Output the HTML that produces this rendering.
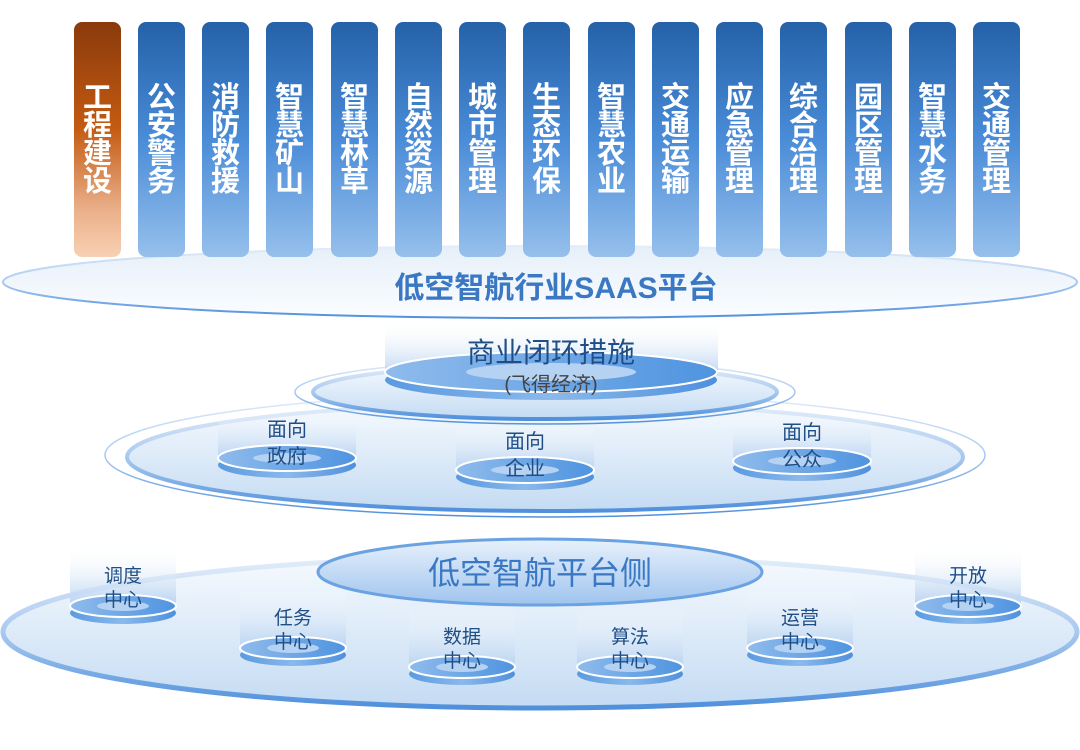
<!DOCTYPE html>
<html><head><meta charset="utf-8"><style>
html,body{margin:0;padding:0;background:#fff;}
svg{display:block;}
text{font-family:"Liberation Sans","Noto Sans CJK SC",sans-serif;}
</style></head><body>
<svg width="1080" height="750" viewBox="0 0 1080 750" xmlns="http://www.w3.org/2000/svg">
<defs>
<linearGradient id="col" x1="0" y1="0" x2="0" y2="1">
<stop offset="0" stop-color="#2461a8"/><stop offset="0.5" stop-color="#4a8cd8"/><stop offset="1" stop-color="#96c0ec"/></linearGradient>
<linearGradient id="colO" x1="0" y1="0" x2="0" y2="1">
<stop offset="0" stop-color="#8a3a0c"/><stop offset="0.45" stop-color="#c45a12"/><stop offset="0.8" stop-color="#eab08a"/><stop offset="1" stop-color="#f8d0b4"/></linearGradient>
<linearGradient id="plat" x1="0" y1="0" x2="0" y2="1">
<stop offset="0" stop-color="#e6eff9"/><stop offset="1" stop-color="#fbfdff"/></linearGradient>
<linearGradient id="big" x1="0" y1="0" x2="0" y2="1">
<stop offset="0" stop-color="#f6fafe"/><stop offset="1" stop-color="#c4dbf3"/></linearGradient>
<linearGradient id="stk" x1="0" y1="0" x2="0" y2="1">
<stop offset="0" stop-color="#e4eefa"/><stop offset="0.5" stop-color="#a9c9ef"/><stop offset="1" stop-color="#4f90dc"/></linearGradient>
<linearGradient id="glow" x1="0" y1="0" x2="0" y2="1">
<stop offset="0" stop-color="#ffffff" stop-opacity="0"/><stop offset="1" stop-color="#b9d3f1"/></linearGradient>
<linearGradient id="disk" x1="0" y1="0" x2="1" y2="0">
<stop offset="0" stop-color="#8fbbec"/><stop offset="1" stop-color="#4f94e0"/></linearGradient>
<linearGradient id="side" x1="0" y1="0" x2="1" y2="0">
<stop offset="0" stop-color="#5a9ae0"/><stop offset="0.5" stop-color="#8ab9ec"/><stop offset="1" stop-color="#4f90dc"/></linearGradient>
<linearGradient id="pt" x1="0" y1="0" x2="0" y2="1">
<stop offset="0" stop-color="#e8f1fb"/><stop offset="1" stop-color="#9fc4ee"/></linearGradient>
</defs>

<!-- top platform -->
<ellipse cx="540" cy="282" rx="537" ry="36" fill="url(#plat)" stroke="url(#stk)" stroke-width="2"/>
<!-- columns -->
<g fill="#fff" font-weight="bold" font-size="29" text-anchor="middle">
<rect x="74" y="22" width="47" height="235" rx="8" fill="url(#colO)"/>
<text x="97.5" y="107">工</text><text x="97.5" y="135">程</text><text x="97.5" y="163">建</text><text x="97.5" y="191">设</text>
</g>
<g fill="#fff" font-weight="bold" font-size="29" text-anchor="middle">
<rect x="138" y="22" width="47" height="235" rx="8" fill="url(#col)"/>
<rect x="202" y="22" width="47" height="235" rx="8" fill="url(#col)"/>
<rect x="266" y="22" width="47" height="235" rx="8" fill="url(#col)"/>
<rect x="331" y="22" width="47" height="235" rx="8" fill="url(#col)"/>
<rect x="395" y="22" width="47" height="235" rx="8" fill="url(#col)"/>
<rect x="459" y="22" width="47" height="235" rx="8" fill="url(#col)"/>
<rect x="523" y="22" width="47" height="235" rx="8" fill="url(#col)"/>
<rect x="588" y="22" width="47" height="235" rx="8" fill="url(#col)"/>
<rect x="652" y="22" width="47" height="235" rx="8" fill="url(#col)"/>
<rect x="716" y="22" width="47" height="235" rx="8" fill="url(#col)"/>
<rect x="780" y="22" width="47" height="235" rx="8" fill="url(#col)"/>
<rect x="845" y="22" width="47" height="235" rx="8" fill="url(#col)"/>
<rect x="909" y="22" width="47" height="235" rx="8" fill="url(#col)"/>
<rect x="973" y="22" width="47" height="235" rx="8" fill="url(#col)"/>
<text x="161.5" y="107">公</text><text x="161.5" y="135">安</text><text x="161.5" y="163">警</text><text x="161.5" y="191">务</text>
<text x="225.5" y="107">消</text><text x="225.5" y="135">防</text><text x="225.5" y="163">救</text><text x="225.5" y="191">援</text>
<text x="289.5" y="107">智</text><text x="289.5" y="135">慧</text><text x="289.5" y="163">矿</text><text x="289.5" y="191">山</text>
<text x="354.5" y="107">智</text><text x="354.5" y="135">慧</text><text x="354.5" y="163">林</text><text x="354.5" y="191">草</text>
<text x="418.5" y="107">自</text><text x="418.5" y="135">然</text><text x="418.5" y="163">资</text><text x="418.5" y="191">源</text>
<text x="482.5" y="107">城</text><text x="482.5" y="135">市</text><text x="482.5" y="163">管</text><text x="482.5" y="191">理</text>
<text x="546.5" y="107">生</text><text x="546.5" y="135">态</text><text x="546.5" y="163">环</text><text x="546.5" y="191">保</text>
<text x="611.5" y="107">智</text><text x="611.5" y="135">慧</text><text x="611.5" y="163">农</text><text x="611.5" y="191">业</text>
<text x="675.5" y="107">交</text><text x="675.5" y="135">通</text><text x="675.5" y="163">运</text><text x="675.5" y="191">输</text>
<text x="739.5" y="107">应</text><text x="739.5" y="135">急</text><text x="739.5" y="163">管</text><text x="739.5" y="191">理</text>
<text x="803.5" y="107">综</text><text x="803.5" y="135">合</text><text x="803.5" y="163">治</text><text x="803.5" y="191">理</text>
<text x="868.5" y="107">园</text><text x="868.5" y="135">区</text><text x="868.5" y="163">管</text><text x="868.5" y="191">理</text>
<text x="932.5" y="107">智</text><text x="932.5" y="135">慧</text><text x="932.5" y="163">水</text><text x="932.5" y="191">务</text>
<text x="996.5" y="107">交</text><text x="996.5" y="135">通</text><text x="996.5" y="163">管</text><text x="996.5" y="191">理</text>
</g>
<text x="556" y="298" text-anchor="middle" font-size="30" font-weight="bold" fill="#3a78c4">低空智航行业SAAS平台</text>

<!-- middle tier -->
<ellipse cx="545" cy="455" rx="440" ry="62" fill="none" stroke="url(#stk)" stroke-width="1.5"/>
<ellipse cx="545" cy="457" rx="418" ry="54" fill="url(#big)" stroke="url(#stk)" stroke-width="4"/>
<ellipse cx="545" cy="392" rx="250" ry="32" fill="none" stroke="url(#stk)" stroke-width="1.5"/>
<ellipse cx="545" cy="392" rx="232" ry="27" fill="url(#big)" stroke="url(#stk)" stroke-width="4"/>

<g>
<rect x="385" y="320" width="333" height="55" fill="url(#glow)"/>
<ellipse cx="551" cy="380" rx="166" ry="20" fill="url(#side)"/>
<ellipse cx="551" cy="372" rx="166" ry="20" fill="url(#disk)" stroke="#fff" stroke-width="2"/>
<ellipse cx="551" cy="372" rx="85" ry="9" fill="#b5d2f3"/>
</g>
<text x="551" y="362" text-anchor="middle" font-size="28" fill="#1f4e86">商业闭环措施</text>
<text x="551" y="391" text-anchor="middle" font-size="20" fill="#444">(飞得经济)</text>

<g>
<rect x="218" y="410" width="138" height="48" fill="url(#glow)"/>
<ellipse cx="287" cy="465" rx="69" ry="13" fill="url(#side)"/>
<ellipse cx="287" cy="458" rx="69" ry="13" fill="url(#disk)" stroke="#fff" stroke-width="2"/>
<ellipse cx="287" cy="458" rx="34" ry="5" fill="#b5d2f3"/>
<rect x="456" y="422" width="138" height="48" fill="url(#glow)"/>
<ellipse cx="525" cy="477" rx="69" ry="13" fill="url(#side)"/>
<ellipse cx="525" cy="470" rx="69" ry="13" fill="url(#disk)" stroke="#fff" stroke-width="2"/>
<ellipse cx="525" cy="470" rx="34" ry="5" fill="#b5d2f3"/>
<rect x="733" y="413" width="138" height="48" fill="url(#glow)"/>
<ellipse cx="802" cy="468" rx="69" ry="13" fill="url(#side)"/>
<ellipse cx="802" cy="461" rx="69" ry="13" fill="url(#disk)" stroke="#fff" stroke-width="2"/>
<ellipse cx="802" cy="461" rx="34" ry="5" fill="#b5d2f3"/>
</g>
<g font-size="20" fill="#1f4e86" text-anchor="middle">
<text x="287" y="436">面向</text><text x="287" y="463">政府</text>
<text x="525" y="448">面向</text><text x="525" y="475">企业</text>
<text x="802" y="439">面向</text><text x="802" y="466">公众</text>
</g>

<!-- bottom tier -->
<ellipse cx="540" cy="632" rx="537" ry="76" fill="url(#big)" stroke="url(#stk)" stroke-width="5"/>
<ellipse cx="540" cy="572" rx="222" ry="33" fill="url(#pt)" stroke="#6aa2e2" stroke-width="3"/>
<text x="540" y="584" text-anchor="middle" font-size="32" fill="#3a78c4">低空智航平台侧</text>

<g>
<rect x="70" y="545" width="106" height="60" fill="url(#glow)"/>
<ellipse cx="123" cy="613" rx="53" ry="11" fill="url(#side)"/>
<ellipse cx="123" cy="606" rx="53" ry="11" fill="url(#disk)" stroke="#fff" stroke-width="2"/>
<ellipse cx="123" cy="606" rx="26" ry="5" fill="#b5d2f3"/>
<rect x="240" y="588" width="106" height="60" fill="url(#glow)"/>
<ellipse cx="293" cy="655" rx="53" ry="11" fill="url(#side)"/>
<ellipse cx="293" cy="648" rx="53" ry="11" fill="url(#disk)" stroke="#fff" stroke-width="2"/>
<ellipse cx="293" cy="648" rx="26" ry="5" fill="#b5d2f3"/>
<rect x="409" y="607" width="106" height="60" fill="url(#glow)"/>
<ellipse cx="462" cy="674" rx="53" ry="11" fill="url(#side)"/>
<ellipse cx="462" cy="667" rx="53" ry="11" fill="url(#disk)" stroke="#fff" stroke-width="2"/>
<ellipse cx="462" cy="667" rx="26" ry="5" fill="#b5d2f3"/>
<rect x="577" y="607" width="106" height="60" fill="url(#glow)"/>
<ellipse cx="630" cy="674" rx="53" ry="11" fill="url(#side)"/>
<ellipse cx="630" cy="667" rx="53" ry="11" fill="url(#disk)" stroke="#fff" stroke-width="2"/>
<ellipse cx="630" cy="667" rx="26" ry="5" fill="#b5d2f3"/>
<rect x="747" y="588" width="106" height="60" fill="url(#glow)"/>
<ellipse cx="800" cy="655" rx="53" ry="11" fill="url(#side)"/>
<ellipse cx="800" cy="648" rx="53" ry="11" fill="url(#disk)" stroke="#fff" stroke-width="2"/>
<ellipse cx="800" cy="648" rx="26" ry="5" fill="#b5d2f3"/>
<rect x="915" y="545" width="106" height="60" fill="url(#glow)"/>
<ellipse cx="968" cy="613" rx="53" ry="11" fill="url(#side)"/>
<ellipse cx="968" cy="606" rx="53" ry="11" fill="url(#disk)" stroke="#fff" stroke-width="2"/>
<ellipse cx="968" cy="606" rx="26" ry="5" fill="#b5d2f3"/>
</g>
<g font-size="19" fill="#1f4e86" text-anchor="middle">
<text x="123" y="582">调度</text><text x="123" y="606">中心</text>
<text x="293" y="624">任务</text><text x="293" y="648">中心</text>
<text x="462" y="643">数据</text><text x="462" y="667">中心</text>
<text x="630" y="643">算法</text><text x="630" y="667">中心</text>
<text x="800" y="624">运营</text><text x="800" y="648">中心</text>
<text x="968" y="582">开放</text><text x="968" y="606">中心</text>
</g>
</svg>
</body></html>
